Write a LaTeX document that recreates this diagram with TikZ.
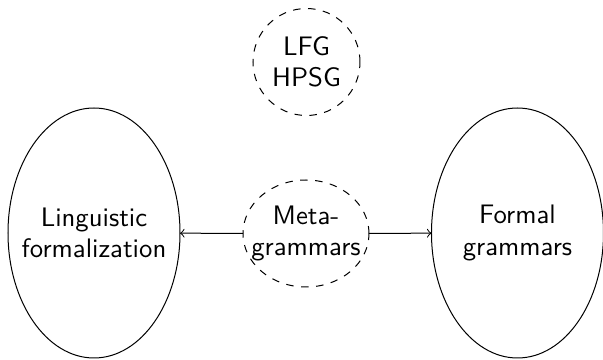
\documentclass[tikz,border=0pt]{standalone}
\usetikzlibrary{shapes.geometric}
\begin{document}
\begin{tikzpicture}[x=0.4pt,y=-0.4pt,
  every node/.style={inner sep=0pt, outer sep=0pt},
  label text/.style={font=\sffamily\fontsize{10.7}{12.6}\selectfont, align=center},
  bigbox/.style={draw, ellipse, minimum width=172*0.4pt, minimum height=250*0.4pt},
  framework/.style={draw, dashed, ellipse, minimum width=107*0.4pt, minimum height=107*0.4pt},
  metabox/.style={draw, dashed, ellipse, minimum width=126*0.4pt, minimum height=107*0.4pt},
  link/.style={->}]
\useasboundingbox (0,0) rectangle (603,360);
% outlines
\node[bigbox] (ling) at (94,233) {};
\node[bigbox] (formal) at (517.5,233) {};
\node[metabox] (meta) at (306,233.5) {};
\node[framework] (lfg) at (306.5,62) {};
% texts
\node[label text] (lingtext) at (ling) {Linguistic\\formalization};
\node[label text] (formaltext) at (formal) {Formal\\grammars};
\node[label text] (metatext) at (meta) {Meta-\\grammars};
\node[label text] (lfgtext) at (lfg) {LFG\\HPSG};
% connectors
\draw[link] (meta) -- (ling);
\draw[link] (meta) -- (formal);
\end{tikzpicture}
\end{document}
